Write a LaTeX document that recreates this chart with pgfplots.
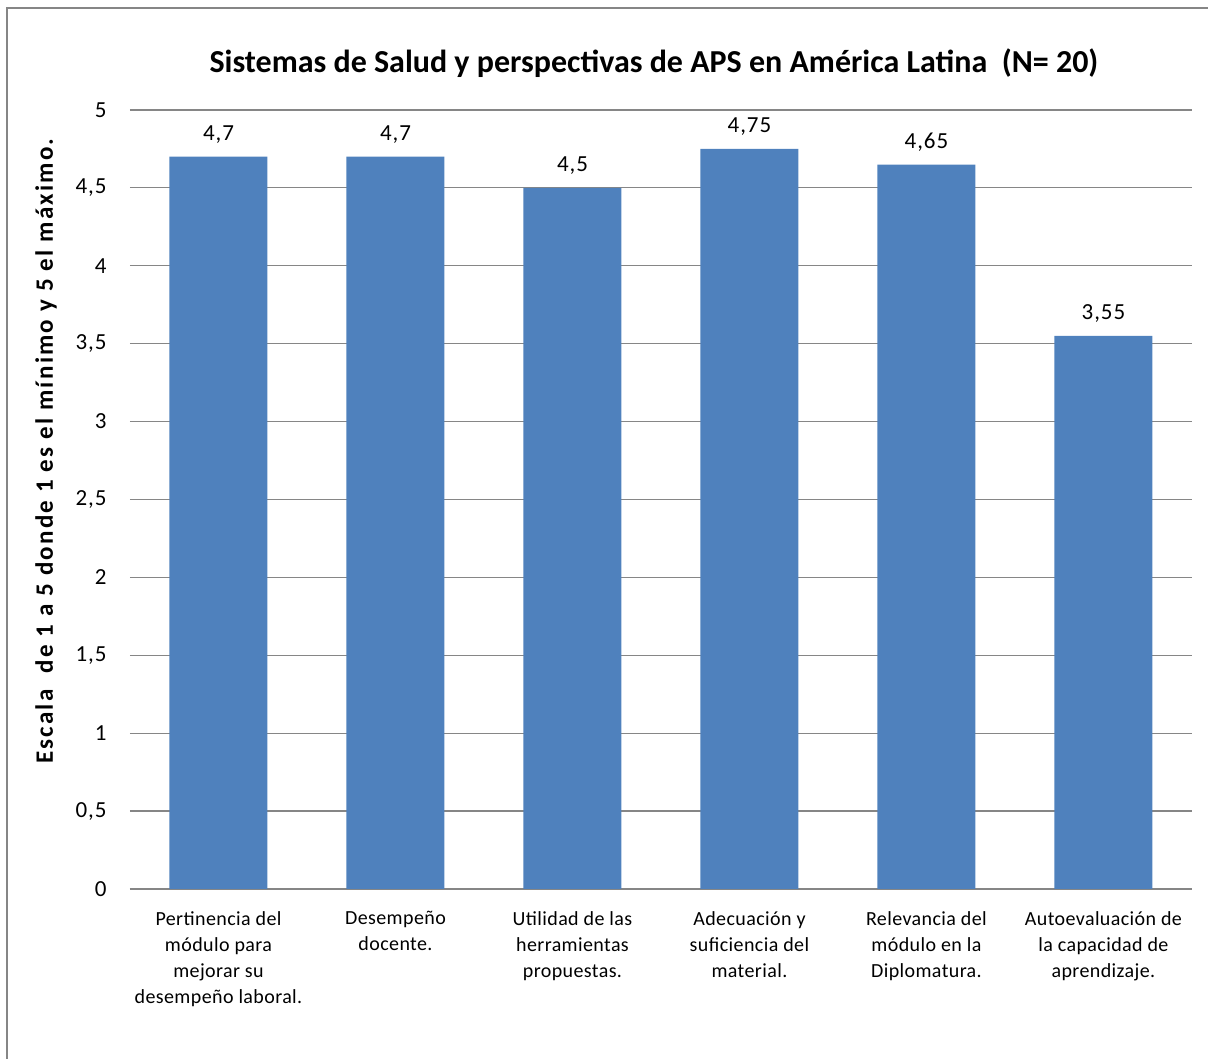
\documentclass[border=0pt]{standalone}
\usepackage{fontspec}
\setmainfont{Carlito}
\newfontfamily\widefont{Carlito}[LetterSpace=4]
\newfontfamily\labfont{Carlito}[LetterSpace=9]
\newfontfamily\catfont{Carlito}[LetterSpace=2]
\usepackage{pgfplots}
\pgfplotsset{compat=1.18}
\definecolor{barblue}{HTML}{4F81BD}
\definecolor{gridgray}{HTML}{868686}
\begin{document}
\begin{tikzpicture}[x=1pt,y=1pt]
\useasboundingbox (-130,-170) rectangle (1078,889);
\draw[gridgray, line width=2pt] (-123,-180) -- (-123,881) -- (1090,881);
\begin{axis}[
  at={(0,0)}, anchor=south west,
  scale only axis, width=1062pt, height=779pt,
  xmin=-0.5, xmax=5.5, ymin=0, ymax=5,
  ytick={0,0.5,...,5},
  xtick=data,
  xticklabels={{Pertinencia del\\módulo para\\mejorar su\\desempeño laboral.},
    {Desempeño\\docente.},
    {Utilidad de las\\herramientas\\propuestas.},
    {Adecuación y\\suficiencia del\\material.},
    {Relevancia del\\módulo en la\\Diplomatura.},
    {Autoevaluación de\\la capacidad de\\aprendizaje.}},
  xticklabel style={align=center, font=\catfont\fontsize{20}{26}\selectfont, anchor=north, yshift=-19pt},
  yticklabel style={font=\widefont\fontsize{23}{27}\selectfont, xshift=-20pt},
  /pgf/number format/assume math mode=true,
  /pgf/number format/use comma,
  major tick length=0pt,
  axis x line*=bottom, axis y line*=left,
  y axis line style={draw=none},
  x axis line style={gridgray, line width=1.2pt, -},
  ymajorgrids, grid style={gridgray, line width=1.2pt},
  ybar, bar width=98pt,
  nodes near coords,
  every node near coord/.append style={font=\widefont\fontsize{23}{27}\selectfont, black, yshift=10pt},
  ylabel={\bfseries Escala\ \ de 1 a 5 donde 1 es el mínimo y 5 el máximo.},
  ylabel style={at={([xshift=-84pt]axis description cs:0,0.562)}, anchor=center, font=\labfont\fontsize{25}{29}\selectfont},
  title={\bfseries Sistemas de Salud y perspectivas de APS en América Latina\ \ (N= 20)},
  title style={at={([xshift=-7pt,yshift=41pt]axis description cs:0.5,1)}, anchor=center, font=\fontsize{32}{36}\selectfont},
]
\addplot[fill=barblue, draw=none] coordinates {(0,4.7) (1,4.7) (2,4.5) (3,4.75) (4,4.65) (5,3.55)};
\end{axis}
\end{tikzpicture}
\end{document}
